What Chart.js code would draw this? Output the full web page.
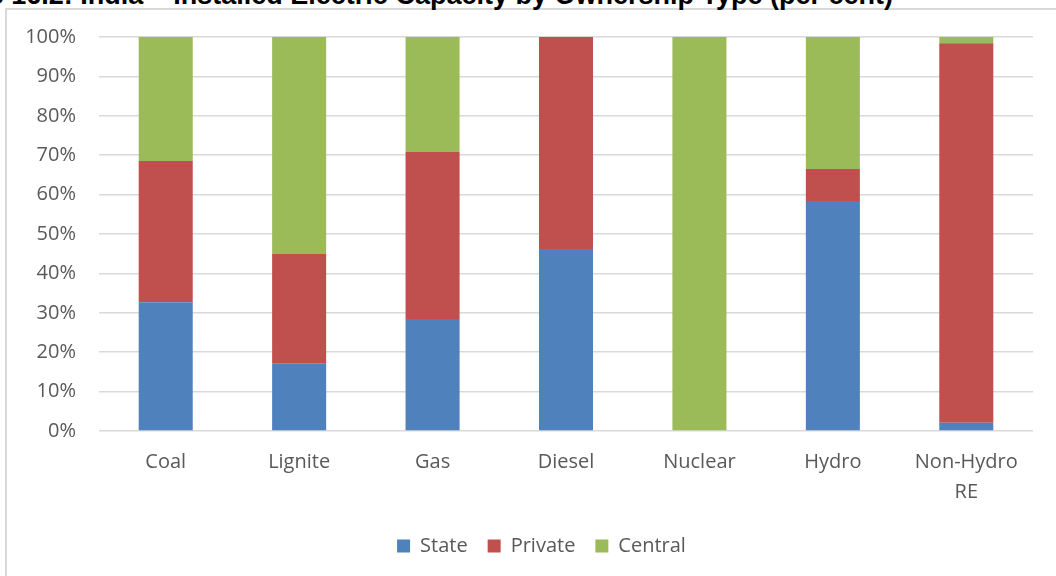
<!DOCTYPE html>
<html>
<head>
<meta charset="utf-8">
<script src="https://cdn.jsdelivr.net/npm/chart.js@4/dist/chart.umd.min.js"></script>
<style>
    body { margin: 0; background: #fff; overflow: hidden; }
    #wrap { position: relative; width: 1056px; height: 576px; overflow: hidden; }
    #frame { position: absolute; left: 5px; top: 8px; width: 1100px; height: 700px; border-left: 2px solid #d9d9d9; border-top: 2px solid #d9d9d9; }
    #title { position: absolute; right: 163px; top: -18px; font: bold 27px "Liberation Sans", Arial, sans-serif; line-height: 27px; color: #000; white-space: nowrap; }
    #chart { position: absolute; left: 0; top: 0; }
</style>
</head>
<body>
<div id="wrap">
    <div id="frame"></div>
    <div id="title">Figure 16.2: India – Installed Electric Capacity by Ownership Type (per cent)</div>
    <canvas id="chart" width="1056" height="576"></canvas>
</div>
<script>
var categories = ["Coal", "Lignite", "Gas", "Diesel", "Nuclear", "Hydro", ["Non-Hydro", "RE"]];
var stateValues = [32.7, 17.2, 28.4, 46.2, 0, 58.4, 2.1];
var privateValues = [35.8, 27.7, 42.4, 53.8, 0, 8.1, 96.3];
var centralValues = [31.5, 55.1, 29.2, 0, 100, 33.5, 1.6];
var yTicks = [0, 10, 20, 30, 40, 50, 60, 70, 80, 90, 100];

var textColor = "#595959";
var font = { family: "'Open Sans', sans-serif", size: 20 };

// legend in the original sits centred on the outer frame, a bit right of the plot
var legendShift = {
    id: 'legendShift',
    afterLayout: function (chart) {
        chart.legend.left += 25;
        chart.legend.right += 25;
    }
};

new Chart(document.getElementById("chart"), {
    type: 'bar',
    data: {
        labels: categories,
        datasets: [
            { label: "State", data: stateValues, backgroundColor: "#4f81bd" },
            { label: "Private", data: privateValues, backgroundColor: "#c0504d" },
            { label: "Central", data: centralValues, backgroundColor: "#9bbb59" }
        ]
    },
    plugins: [legendShift],
    options: {
        responsive: false,
        devicePixelRatio: 1,
        animation: false,
        categoryPercentage: 1,
        barPercentage: 0.405,
        layout: {
            padding: { left: 0, right: 23, top: 37, bottom: 10 }
        },
        plugins: {
            legend: {
                position: 'bottom',
                labels: {
                    boxWidth: 13,
                    boxHeight: 13,
                    padding: 20,
                    color: textColor,
                    font: font
                }
            },
            tooltip: { enabled: false }
        },
        scales: {
            x: {
                stacked: true,
                grid: { display: false, drawTicks: false },
                border: { display: false },
                ticks: {
                    color: textColor,
                    padding: 16,
                    maxRotation: 0,
                    font: { family: font.family, size: font.size, lineHeight: 1.5 }
                },
                afterFit: function (scale) {
                    scale.height = 85;
                }
            },
            y: {
                stacked: true,
                min: 0,
                max: 100,
                afterBuildTicks: function (scale) {
                    scale.ticks = yTicks.map(function (v) { return { value: v }; });
                },
                grid: { color: "#d9d9d9", lineWidth: 1.5, drawTicks: false },
                border: { display: false },
                ticks: {
                    color: textColor,
                    padding: 23,
                    font: font,
                    callback: function (v) { return v + "%"; }
                },
                afterFit: function (scale) {
                    scale.width = 99;
                }
            }
        }
    }
});
</script>
</body>
</html>
